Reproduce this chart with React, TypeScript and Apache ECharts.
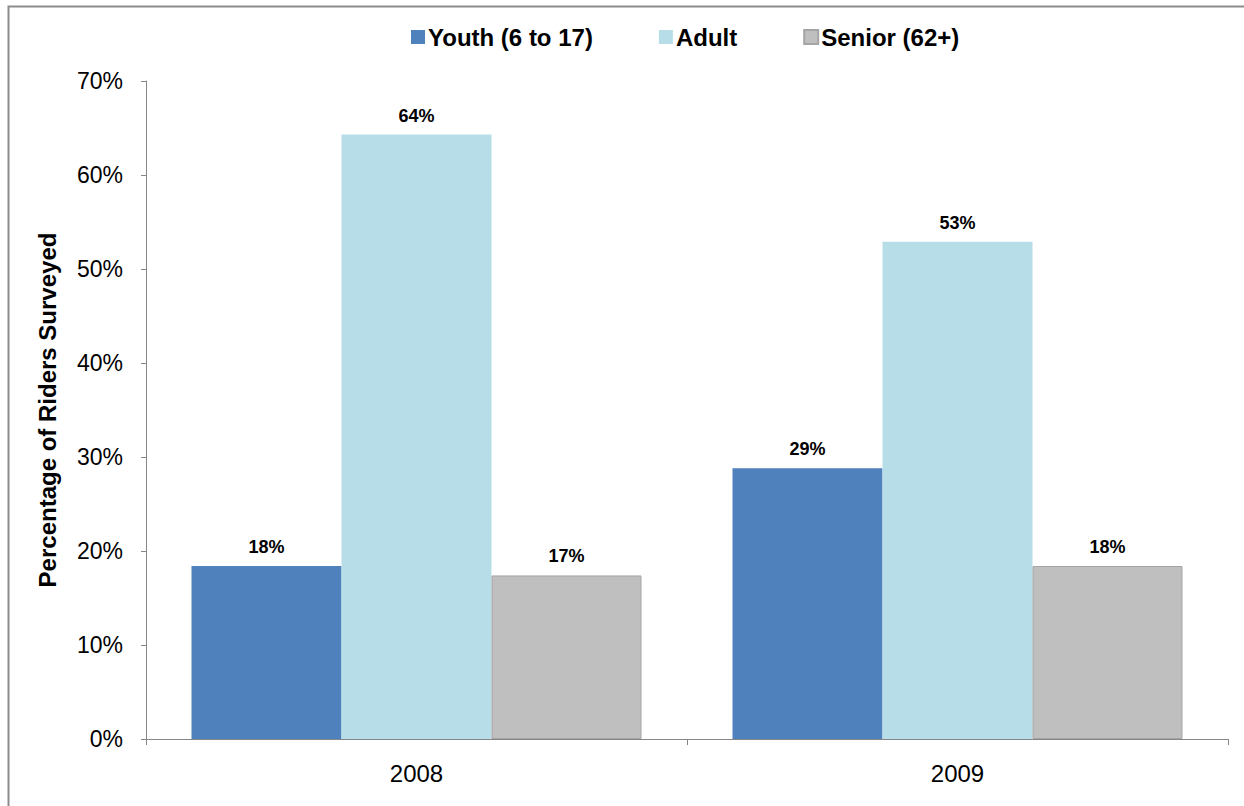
import React, { useEffect, useRef } from "react";
import * as echarts from "echarts";

const categories = ["2008", "2009"];
const seriesNames = ["Youth (6 to 17)", "Adult", "Senior (62+)"];
const youth = [18.4, 28.8];
const adult = [64.3, 52.9];
const senior = [17.4, 18.4];
const yTicks = [0, 10, 20, 30, 40, 50, 60, 70];

const FONT = "'Liberation Sans', Arial, sans-serif";

export default function App() {
  const ref = useRef<HTMLDivElement>(null);
  useEffect(() => {
    document.body.style.margin = "0";
    const chart = echarts.init(ref.current!, undefined, { renderer: "svg" });
    const label = {
      show: true,
      position: "top",
      distance: 10,
      fontFamily: FONT,
      fontWeight: "bold",
      fontSize: 18,
      color: "#000",
      formatter: (p: any) => Math.round(p.value) + "%",
    };
    const colors = ["#4f81bd", "#b7dee8", "#bfbfbf"];
    const data = [youth, adult, senior];
    chart.setOption({
      animation: false,
      textStyle: { fontFamily: FONT },
      graphic: [
        {
          type: "rect",
          shape: { x: 8.5, y: 6.5, width: 1400, height: 1000 },
          style: { fill: "none", stroke: "#8c8c8c", lineWidth: 2 },
          silent: true,
        },
      ],
      legend: {
        top: 20,
        left: 406,
        itemWidth: 14,
        itemHeight: 14,
        itemGap: 66,
        icon: "rect",
        textStyle: { fontFamily: FONT, fontWeight: "bold", fontSize: 24, color: "#000", padding: [0, 0, 0, -2] },
        data: seriesNames,
      },
      grid: { left: 146, right: 16, top: 81, bottom: 67, containLabel: false },
      xAxis: {
        type: "category",
        data: categories,
        axisLine: { lineStyle: { color: "#868686", width: 1 } },
        axisTick: { show: true, length: 6, lineStyle: { color: "#868686" } },
        axisLabel: { fontFamily: FONT, fontSize: 24, color: "#000", margin: 22 },
      },
      yAxis: {
        type: "value",
        min: yTicks[0],
        max: yTicks[yTicks.length - 1],
        interval: 10,
        name: "Percentage of Riders Surveyed",
        nameLocation: "middle",
        nameGap: 87,
        nameRotate: 90,
        nameTextStyle: { fontFamily: FONT, fontWeight: "bold", fontSize: 24, color: "#000" },
        splitLine: { show: false },
        axisLine: { show: true, lineStyle: { color: "#868686", width: 1 } },
        axisTick: { show: true, length: 5, inside: false, lineStyle: { color: "#868686" } },
        axisLabel: { fontFamily: FONT, fontSize: 23, color: "#000", margin: 23, formatter: "{value}%" },
      },
      series: seriesNames.map((name, i) => ({
        name,
        type: "bar",
        data: data[i],
        barWidth: 150,
        barGap: "0%",
        itemStyle: {
          color: colors[i],
          borderColor: i === 2 ? "#a5a5a5" : colors[i],
          borderWidth: i === 2 ? 1 : 0,
        },
        label,
      })),
    });
    return () => chart.dispose();
  }, []);
  return <div ref={ref} style={{ width: 1244, height: 806 }} />;
}
